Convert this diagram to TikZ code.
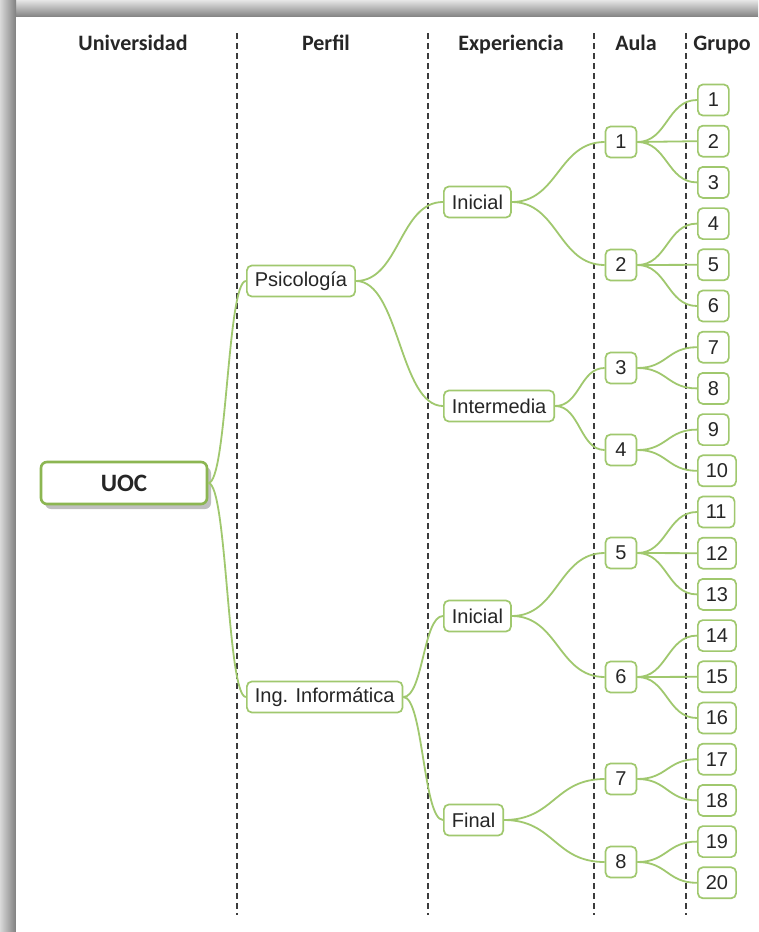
\documentclass[tikz,border=0pt]{standalone}
\usepackage{fontspec}
\setmainfont{Liberation Sans}
\newfontfamily\carlito{Carlito}
\usetikzlibrary{calc,shadows}

\definecolor{verde}{RGB}{160,200,110}
\definecolor{verdeoscuro}{RGB}{140,182,82}
\definecolor{guion}{RGB}{60,60,60}

\tikzset{
  caja/.style={draw=verde, line width=1.7pt, rounded corners=5pt, fill=white,
    font=\fontsize{20}{20}\selectfont, text=black!85, inner xsep=8pt,
    inner ysep=0pt, minimum height=31pt, minimum width=31pt},
  raiz/.style={caja, draw=verdeoscuro, line width=2.6pt, rounded corners=6pt,
    minimum width=166pt, minimum height=42pt,
    font=\carlito\bfseries\fontsize{25}{25}\selectfont,
    drop shadow={shadow xshift=4pt, shadow yshift=-5pt, fill=black!50}},
  titulo/.style={anchor=base, font=\carlito\bfseries\fontsize{22}{22}\selectfont, text=black!85},
  columna/.style={draw=guion, line width=2.4pt, dash pattern=on 6pt off 4pt},
  enlace/.style={draw=verde, line width=1.8pt},
  rama/.style={to path={let \p1=(\tikztostart), \p2=(\tikztotarget),
    \n1={(\x2-\x1)/2} in .. controls +(\n1,0pt) and +(-\n1,0pt) .. (\tikztotarget)}}
}

\begin{document}
\begin{tikzpicture}[x=1pt, y=-1pt]

  \useasboundingbox (0,0) rectangle (758,932);
  \fill[white] (0,0) rectangle (758,932);
  \shade[top color=black!10, bottom color=black!50] (0,0) rectangle (758,17);
  \shade[left color=black!15, right color=black!50] (0,0) rectangle (16,932);
  \fill[white] (16,17) rectangle (758,932);

  \node[titulo] (tUni) at (133,50) {Universidad};
  \node[titulo] (tPer) at (326,50) {Perfil};
  \node[titulo] (tExp) at (511,50) {Experiencia};
  \node[titulo] (tAul) at (636,50) {Aula};
  \node[titulo] (tGru) at (722,50) {Grupo};

  \foreach \x in {237,428,594,686}
    \draw[columna] (\x,33) -- (\x,915);

  \node[raiz] (uoc) at (124,483) {UOC};

  \node[caja, anchor=west] (psi) at (246,281) {Psicología};
  \node[caja, anchor=west] (inf) at (246,697) {Ing. Informática};

  \node[caja, anchor=west] (ini1) at (443,202) {Inicial};
  \node[caja, anchor=west] (inter) at (443,406) {Intermedia};
  \node[caja, anchor=west] (ini2) at (443,616) {Inicial};
  \node[caja, anchor=west] (fin) at (443,820) {Final};

  \foreach \n/\y in {1/142,2/265,3/368,4/450,5/553,6/677,7/779,8/862}
    \node[caja] (a\n) at (621,\y) {\n};

  \foreach \n in {1,...,20}
    \node[caja, anchor=west] (g\n) at (697,{100+41.2*(\n-1)}) {\n};

  \draw[enlace] (uoc.east) to[rama] (psi.west);
  \draw[enlace] (uoc.east) to[rama] (inf.west);
  \draw[enlace] (psi.east) to[rama] (ini1.west);
  \draw[enlace] (psi.east) to[rama] (inter.west);
  \draw[enlace] (inf.east) to[rama] (ini2.west);
  \draw[enlace] (inf.east) to[rama] (fin.west);

  \foreach \e/\a in {ini1/1,ini1/2,inter/3,inter/4,ini2/5,ini2/6,fin/7,fin/8}
    \draw[enlace] (\e.east) to[rama] (a\a.west);

  \foreach \a/\g in {1/1,1/2,1/3,2/4,2/5,2/6,3/7,3/8,4/9,4/10,
                     5/11,5/12,5/13,6/14,6/15,6/16,7/17,7/18,8/19,8/20}
    \draw[enlace] (a\a.east) to[rama] (g\g.west);

\end{tikzpicture}
\end{document}
